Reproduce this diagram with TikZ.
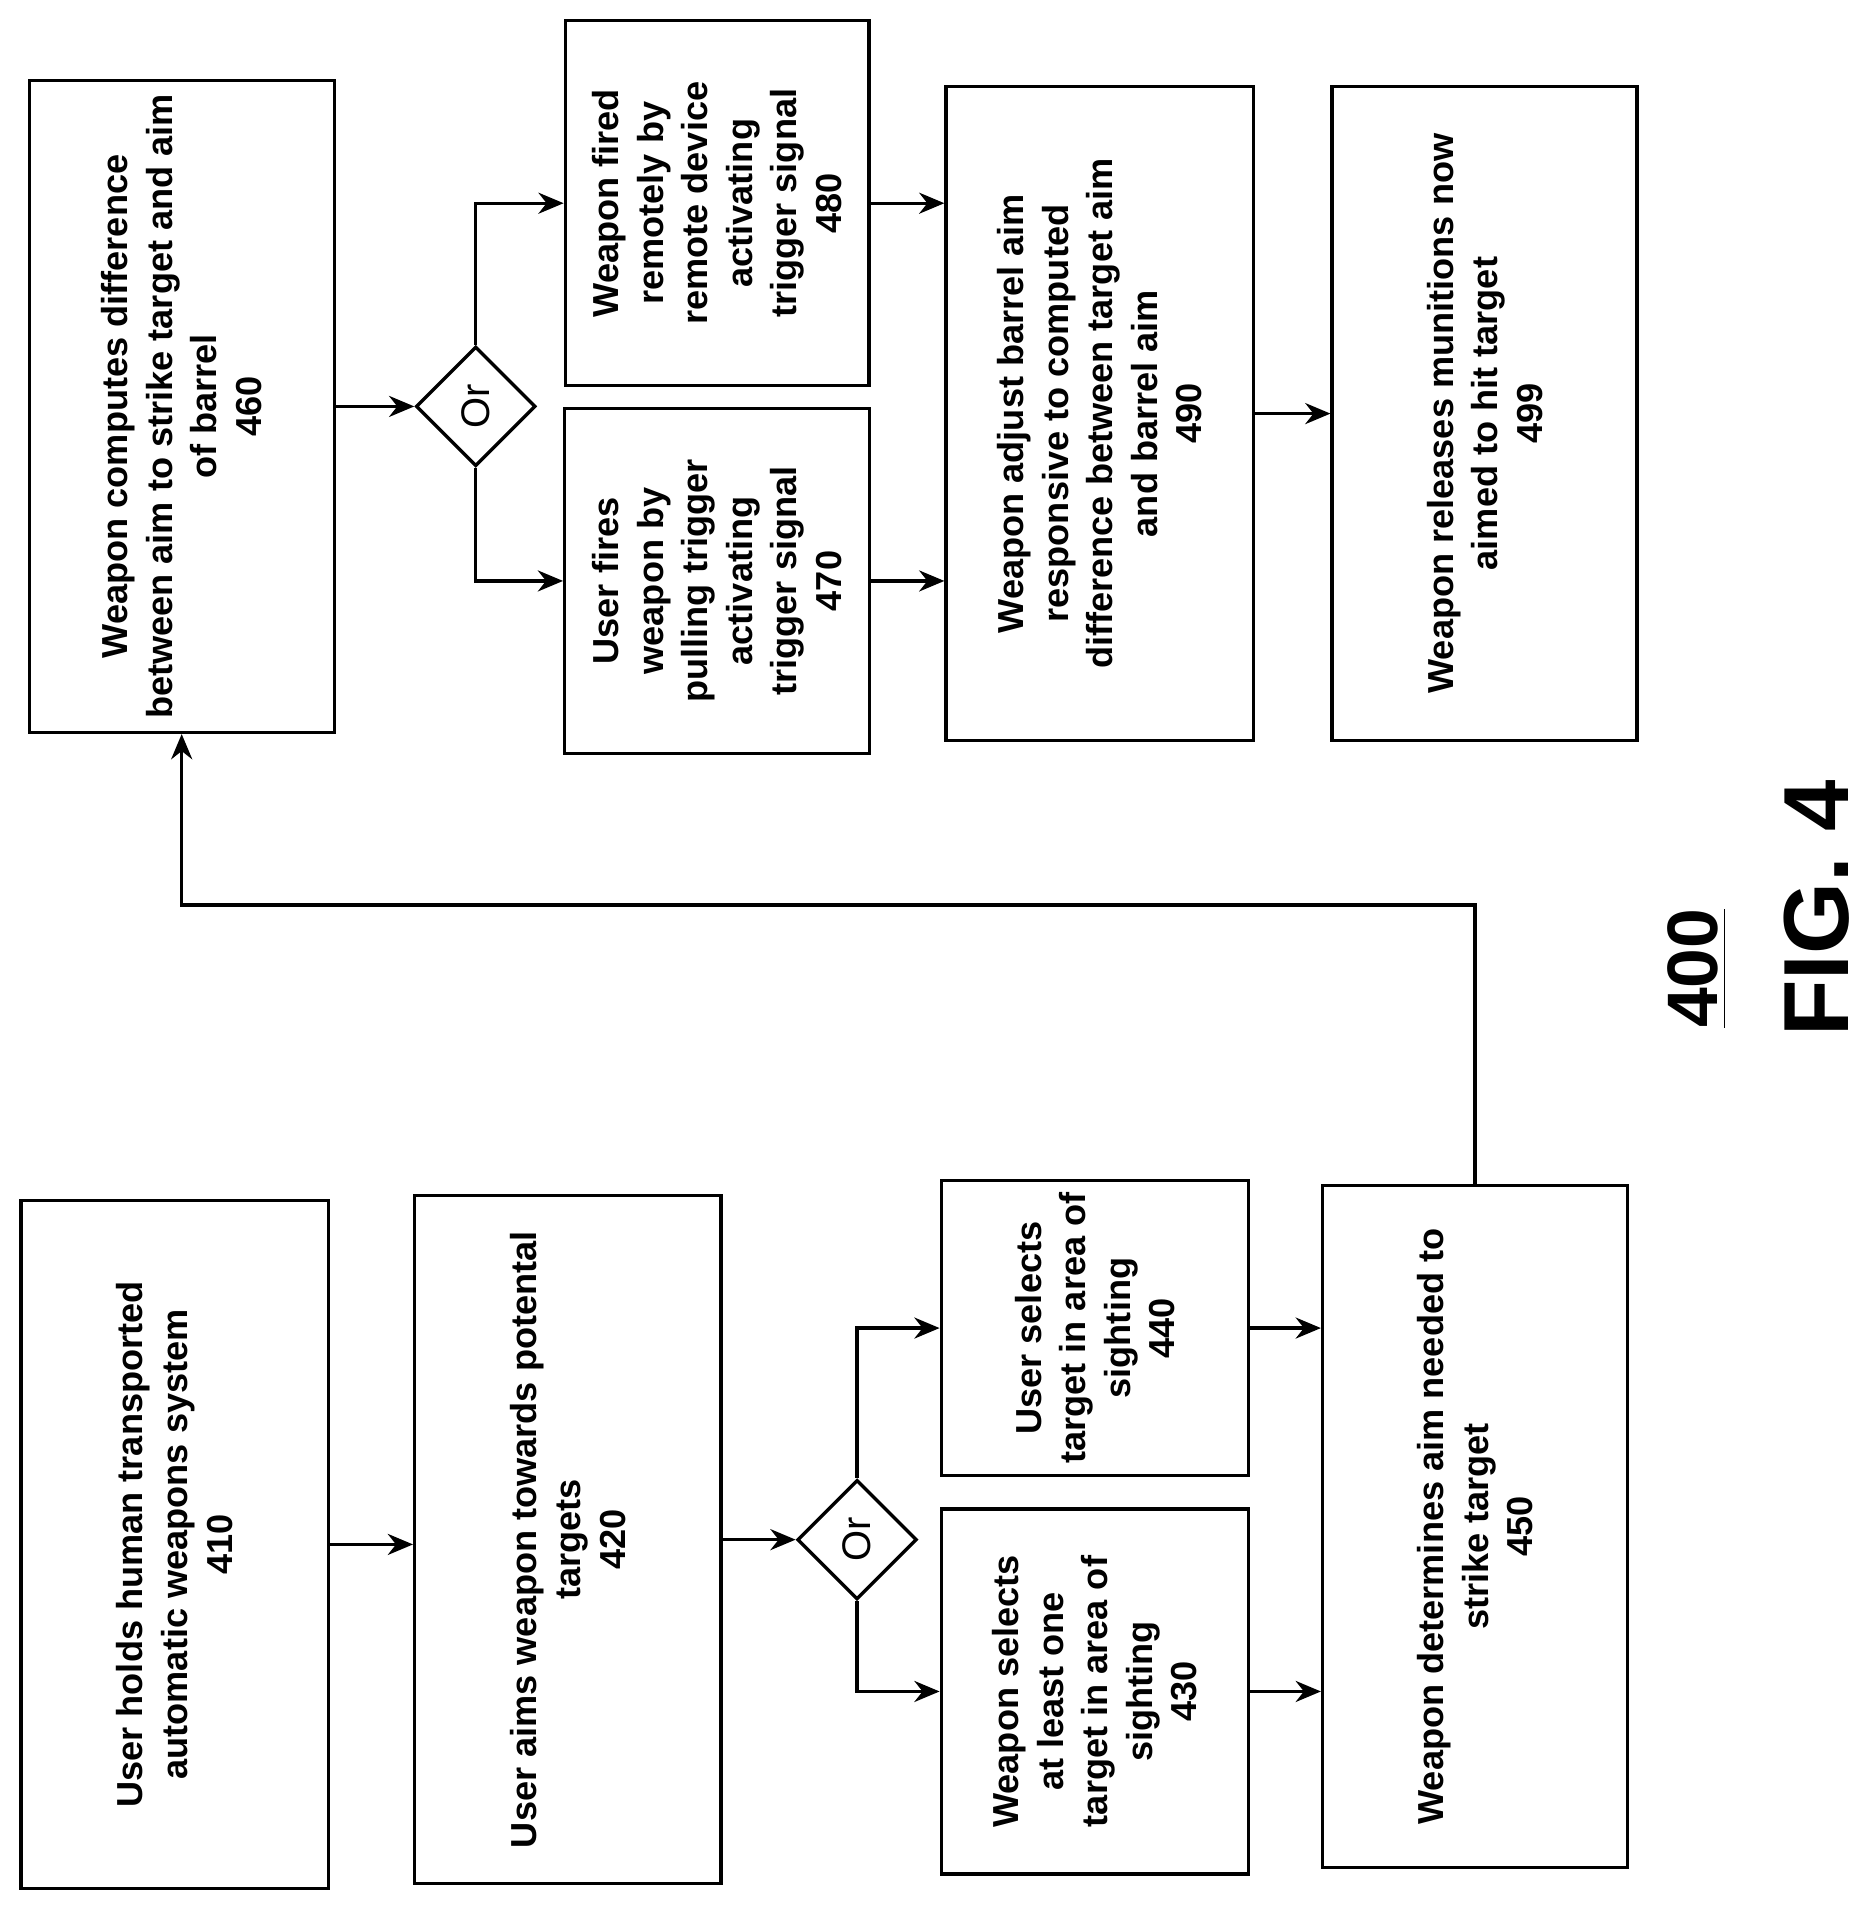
\documentclass[tikz,border=0pt]{standalone}
\usepackage{fontspec}
\setmainfont{Liberation Sans}
\usetikzlibrary{shapes.geometric,arrows.meta}
\newcommand{\stepn}{\node[stepbox]}
\newcommand{\orn}{\node[ornode]}
\tikzset{
  stepbox/.style={draw, line width=0.8pt, rotate=90, align=center, inner sep=2pt,
    font=\fontsize{8.6}{10.6}\selectfont\bfseries},
  ornode/.style={draw, diamond, aspect=1, line width=0.8pt, rotate=90, minimum size=1cm,
    inner sep=0pt, font=\fontsize{9.5}{11}\selectfont},
  arr/.style={-{Stealth[length=6pt,width=5pt]}, line width=0.8pt}
}
\begin{document}
\begin{tikzpicture}[x=0.01cm, y=-0.01cm]
  \useasboundingbox (0,0) rectangle (1560,1597);

  % lower row
  \stepn[minimum width=5.75cm, minimum height=2.57cm] (n410) at (146,1292)
    {User holds human transported\\automatic weapons system\\410};
  \stepn[minimum width=5.75cm, minimum height=2.56cm] (n420) at (475,1288)
    {User aims weapon towards potental\\targets\\420};
  \orn (or1) at (717,1288) {Or};
  \stepn[minimum width=2.47cm, minimum height=2.57cm] (n440) at (916,1111)
    {User selects\\target in area of\\sighting\\440};
  \stepn[minimum width=3.05cm, minimum height=2.57cm] (n430) at (916,1415)
    {Weapon selects\\at least one\\target in area of\\sighting\\430};
  \stepn[minimum width=5.7cm, minimum height=2.55cm] (n450) at (1234,1277)
    {Weapon determines aim needed to\\strike target\\450};

  % upper row
  \stepn[minimum width=5.45cm, minimum height=2.55cm] (n460) at (152,340)
    {Weapon computes difference\\between aim to strike target and aim\\of barrel\\460};
  \orn (or2) at (398,340) {Or};
  \stepn[minimum width=3.05cm, minimum height=2.54cm] (n480) at (600,170)
    {Weapon fired\\remotely by\\remote device\\activating\\trigger signal\\480};
  \stepn[minimum width=2.88cm, minimum height=2.55cm] (n470) at (600,486)
    {User fires\\weapon by\\pulling trigger\\activating\\trigger signal\\470};
  \stepn[minimum width=5.47cm, minimum height=2.57cm] (n490) at (920,346)
    {Weapon adjust barrel aim\\responsive to computed\\difference between target aim\\and barrel aim\\490};
  \stepn[minimum width=5.47cm, minimum height=2.55cm] (n499) at (1242,346)
    {Weapon releases munitions now\\aimed to hit target\\499};

  \node[rotate=90, font=\fontsize{17}{20}\selectfont\bfseries] (lbl) at (1420,810) {\underline{400}};
  \node[rotate=90, font=\fontsize{22}{26}\selectfont\bfseries] (fig) at (1520,760) {FIG. 4};

  \draw[arr] (n410.south) -- (n410.south -| n420.north);
  \draw[arr] (n420.south) -- (n420.south -| or1.north);
  \draw[arr] (or1.east) |- (n440.north);
  \draw[arr] (or1.west) |- (n430.north);
  \draw[arr] (n440.south) -- (n440.south -| n450.north);
  \draw[arr] (n430.south) -- (n430.south -| n450.north);
  \draw[arr] (n450.east) -- (n450.east |- 0,757) -| (n460.west);

  \draw[arr] (n460.south) -- (n460.south -| or2.north);
  \draw[arr] (or2.east) |- (n480.north);
  \draw[arr] (or2.west) |- (n470.north);
  \draw[arr] (n480.south) -- (n480.south -| n490.north);
  \draw[arr] (n470.south) -- (n470.south -| n490.north);
  \draw[arr] (n490.south) -- (n490.south -| n499.north);
\end{tikzpicture}
\end{document}
